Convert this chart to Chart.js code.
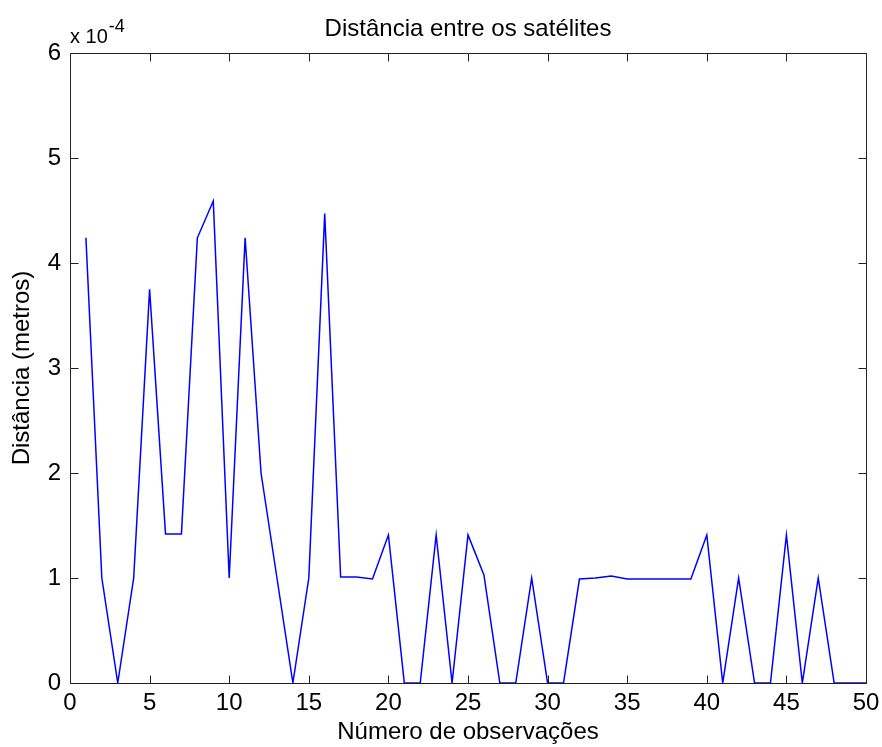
<!DOCTYPE html>
<html>
<head>
<meta charset="utf-8">
<script src="https://cdn.jsdelivr.net/npm/chart.js@4"></script>
<style>
  html, body { margin: 0; padding: 0; background: #fff; }
  #wrap { width: 882px; height: 747px; }
</style>
</head>
<body>
<div id="wrap"><canvas id="distChart" width="882" height="747"></canvas></div>
<script>
// observation numbers 1..50
const observacoes = [
  1, 2, 3, 4, 5, 6, 7, 8, 9, 10,
  11, 12, 13, 14, 15, 16, 17, 18, 19, 20,
  21, 22, 23, 24, 25, 26, 27, 28, 29, 30,
  31, 32, 33, 34, 35, 36, 37, 38, 39, 40,
  41, 42, 43, 44, 45, 46, 47, 48, 49, 50
];
// distance, in units of 1e-4 m
const distancia = [
  4.24, 1.0, 0, 1.0, 3.75, 1.42, 1.42, 4.24, 4.59, 1.0,
  4.24, 2.0, 1.0, 0, 1.0, 4.47, 1.01, 1.01, 0.99, 1.41,
  0, 0, 1.41, 0, 1.41, 1.03, 0, 0, 1.0, 0,
  0, 0.99, 1.0, 1.02, 0.99, 0.99, 0.99, 0.99, 0.99, 1.41,
  0, 1.0, 0, 0, 1.41, 0, 1.0, 0, 0, 0
];
const xTicks = [0, 5, 10, 15, 20, 25, 30, 35, 40, 45, 50];
const yTicks = [0, 1, 2, 3, 4, 5, 6];
const titulo = 'Distância entre os satélites';

const FONT = 'Liberation Sans, Arial, sans-serif';

// MATLAB-like box with inward tick marks, title and exponent label
const boxPlugin = {
  id: 'box',
  afterDraw(chart) {
    const { ctx, chartArea: a, scales } = chart;
    const tl = 8;
    const l = Math.round(a.left) + 0.5, r = Math.round(a.right) + 0.5;
    const t = Math.round(a.top) + 0.5, b = Math.round(a.bottom) + 0.5;
    ctx.save();
    ctx.strokeStyle = '#222';
    ctx.lineWidth = 1;
    ctx.beginPath();
    ctx.rect(l, t, r - l, b - t);
    xTicks.forEach(v => {
      const x = Math.round(scales.x.getPixelForValue(v)) + 0.5;
      ctx.moveTo(x, b); ctx.lineTo(x, b - tl);
      ctx.moveTo(x, t); ctx.lineTo(x, t + tl);
    });
    yTicks.forEach(v => {
      const y = Math.round(scales.y.getPixelForValue(v)) + 0.5;
      ctx.moveTo(l, y); ctx.lineTo(l + tl, y);
      ctx.moveTo(r, y); ctx.lineTo(r - tl, y);
    });
    ctx.stroke();

    ctx.fillStyle = '#000';
    ctx.textBaseline = 'alphabetic';
    ctx.textAlign = 'center';
    ctx.font = '24px ' + FONT;
    ctx.fillText(titulo, (a.left + a.right) / 2, 36);

    ctx.textAlign = 'left';
    ctx.font = '20px ' + FONT;
    ctx.fillText('x 10', a.left, 43);
    const w = ctx.measureText('x 10').width;
    ctx.font = '18px ' + FONT;
    ctx.fillText('-4', a.left + w + 1, 32);
    ctx.restore();
  }
};

new Chart(document.getElementById('distChart'), {
  type: 'line',
  data: {
    labels: observacoes,
    datasets: [{
      data: observacoes.map((x, i) => ({ x: x, y: distancia[i] })),
      borderColor: '#0000ff',
      borderWidth: 1.5,
      pointRadius: 0,
      tension: 0,
      fill: false
    }]
  },
  options: {
    responsive: false,
    animation: false,
    layout: { padding: { top: 53, right: 0, bottom: 0, left: 0 } },
    plugins: {
      legend: { display: false },
      tooltip: { enabled: false },
      title: { display: false }
    },
    scales: {
      x: {
        type: 'linear',
        min: 0,
        max: 50,
        afterBuildTicks: s => { s.ticks = xTicks.map(v => ({ value: v })); },
        afterFit: s => { s.height = 64; s.paddingRight = 16; s.paddingLeft = 0; },
        grid: { display: false, drawTicks: false },
        border: { display: false },
        ticks: { color: '#000', padding: 6, maxRotation: 0, font: { family: FONT, size: 24 } },
        title: {
          display: true,
          text: 'Número de observações',
          color: '#000',
          font: { family: FONT, size: 24 },
          padding: { top: 0, bottom: 0 }
        }
      },
      y: {
        min: 0,
        max: 6,
        afterBuildTicks: s => { s.ticks = yTicks.map(v => ({ value: v })); },
        afterFit: s => { s.width = 70; },
        grid: { display: false, drawTicks: false },
        border: { display: false },
        ticks: { color: '#000', padding: 9, font: { family: FONT, size: 24 } },
        title: {
          display: true,
          text: 'Distância (metros)',
          color: '#000',
          font: { family: FONT, size: 24 },
          padding: { top: 8, bottom: 0 }
        }
      }
    }
  },
  plugins: [boxPlugin]
});
</script>
</body>
</html>
